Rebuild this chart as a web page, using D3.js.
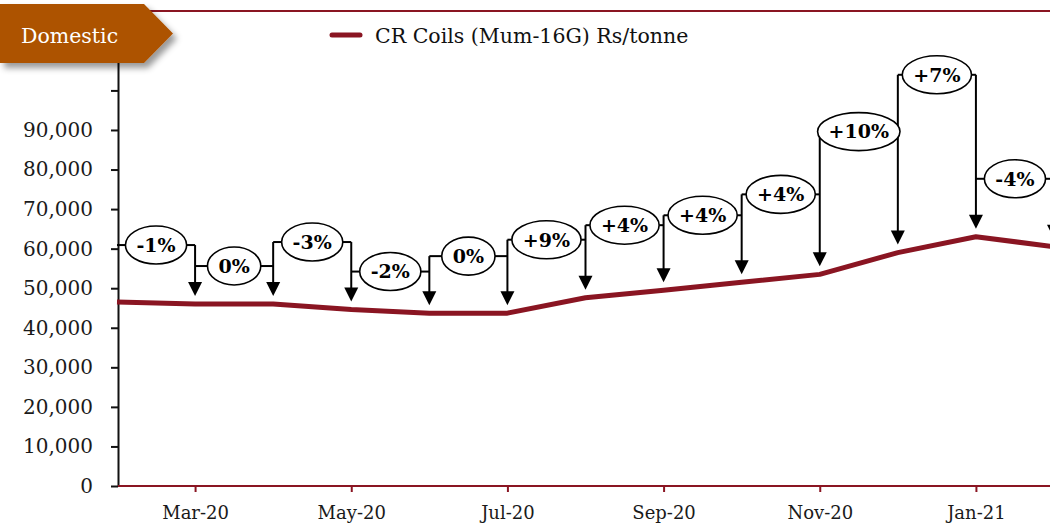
<!DOCTYPE html>
<html>
<head>
<meta charset="utf-8">
<title>CR Coils (Mum-16G) Rs/tonne</title>
<script src="https://cdn.jsdelivr.net/npm/d3@7/dist/d3.min.js"></script>
<style>
  body { margin: 0; background: #fff; }
  svg { display: block; font-family: "DejaVu Serif", Georgia, serif; }
  .y-axis path, .y-axis line { stroke: #111; stroke-width: 2px; }
  .x-axis path, .x-axis line { stroke: #8a1522; stroke-width: 2px; }
  .y-axis text, .x-axis text { fill: #1a1a1a; }
  .conn { stroke: #000; stroke-width: 2px; fill: none; }
  .bubble { fill: #fff; stroke: #000; stroke-width: 1.6px; }
  .bubble-label { font-weight: bold; font-size: 19px; text-anchor: middle; }
</style>
</head>
<body>
<div id="viz"></div>
<script>
// DATA
var months = ["Feb-20", "Mar-20", "Apr-20", "May-20", "Jun-20", "Jul-20", "Aug-20",
              "Sep-20", "Oct-20", "Nov-20", "Dec-20", "Jan-21", "Feb-21"];
var prices = [46500, 46000, 46000, 44600, 43700, 43700, 47600,
              49500, 51500, 53500, 59000, 63000, 60500];
var changeLabels = ["-1%", "0%", "-3%", "-2%", "0%", "+9%", "+4%", "+4%", "+4%", "+10%", "+7%", "-4%"];
var xTickLabels = ["Mar-20", "May-20", "Jul-20", "Sep-20", "Nov-20", "Jan-21"];
var yTicks = d3.range(0, 120001, 10000);
var yLabelMax = 90000;
var seriesName = "CR Coils (Mum-16G) Rs/tonne";
var tagText = "Domestic";

// layout: px each change bubble sits above the higher of its two points
var calloutLift = [57, 38, 62, 38, 57, 58, 65, 67, 80, 121, 162, 58];

// Dimensions
var w = 1050, h = 526;
var lineColor = "#8a1522";

var svg = d3.select("#viz").append("svg")
  .attr("width", w)
  .attr("height", h);

var x = d3.scalePoint().domain(months).range([117, 1054]);
var y = d3.scaleLinear().domain([0, 120000]).range([486, 11.3]);

// top rule
svg.append("line")
  .attr("x1", 117).attr("x2", w)
  .attr("y1", 11).attr("y2", 11)
  .attr("stroke", lineColor).attr("stroke-width", 2);

// AXES
var yAxis = svg.append("g")
  .attr("class", "y-axis")
  .attr("transform", "translate(118,0)")
  .call(d3.axisLeft(y)
    .tickValues(yTicks)
    .tickSize(7)
    .tickSizeOuter(0)
    .tickPadding(18)
    .tickFormat(function(d) { return d <= yLabelMax ? d3.format(",")(d) : ""; }));
yAxis.attr("font-family", null).attr("font-size", null);
yAxis.selectAll("text").style("font-size", "20px");

var xAxis = svg.append("g")
  .attr("class", "x-axis")
  .attr("transform", "translate(0," + y(0) + ")")
  .call(d3.axisBottom(x)
    .tickValues(xTickLabels)
    .tickSize(6)
    .tickSizeOuter(0)
    .tickPadding(14));
xAxis.attr("font-family", null).attr("font-size", null);
xAxis.select(".domain").attr("d", "M118,0H" + w);
xAxis.selectAll("text").style("font-size", "18px");

// PRICE LINE
var line = d3.line()
  .x(function(d, i) { return x(months[i]); })
  .y(function(d) { return y(d); });

svg.append("path")
  .datum(prices)
  .attr("d", line)
  .attr("fill", "none")
  .attr("stroke", lineColor)
  .attr("stroke-width", 5)
  .attr("stroke-linejoin", "round");

// CALLOUTS
var callouts = changeLabels.map(function(lbl, j) {
  var x0 = x(months[j]), x1 = x(months[j + 1]);
  return {
    label: lbl,
    x0: x0, x1: x1,
    cx: (x0 + x1) / 2,
    cy: Math.min(y(prices[j]), y(prices[j + 1])) - calloutLift[j]
  };
});

var connG = svg.append("g");
var bubbleG = svg.append("g");

var bubbles = bubbleG.selectAll("g")
  .data(callouts)
  .enter().append("g");

bubbles.append("ellipse").attr("class", "bubble");
bubbles.append("text")
  .attr("class", "bubble-label")
  .attr("x", function(d) { return d.cx; })
  .attr("y", function(d) { return d.cy; })
  .attr("dy", "0.36em")
  .text(function(d) { return d.label; })
  .each(function(d) { d.rx = this.getComputedTextLength() / 2 + 11; });

bubbles.select("ellipse")
  .attr("cx", function(d) { return d.cx; })
  .attr("cy", function(d) { return d.cy; })
  .attr("rx", function(d) { return d.rx; })
  .attr("ry", 19);

// horizontal stubs from bubble sides to the month verticals
callouts.forEach(function(d) {
  connG.append("line").attr("class", "conn")
    .attr("x1", d.x0).attr("x2", d.cx - d.rx)
    .attr("y1", d.cy).attr("y2", d.cy);
  connG.append("line").attr("class", "conn")
    .attr("x1", d.cx + d.rx).attr("x2", d.x1)
    .attr("y1", d.cy).attr("y2", d.cy);
});

// down arrows onto each month's point
prices.forEach(function(v, i) {
  if (i === 0) return;
  var xi = x(months[i]);
  var top = callouts[i] ? Math.min(callouts[i - 1].cy, callouts[i].cy) : callouts[i - 1].cy;
  var tip = y(v) - 8;
  connG.append("line").attr("class", "conn")
    .attr("x1", xi).attr("x2", xi)
    .attr("y1", top).attr("y2", tip - 10);
  connG.append("path")
    .attr("d", "M" + (xi - 7) + "," + (tip - 14) + "L" + (xi + 7) + "," + (tip - 14) + "L" + xi + "," + tip + "Z")
    .attr("fill", "#000");
});

// LEGEND
svg.append("line")
  .attr("x1", 332).attr("x2", 360)
  .attr("y1", 35).attr("y2", 35)
  .attr("stroke", lineColor)
  .attr("stroke-width", 5)
  .attr("stroke-linecap", "round");
svg.append("text")
  .attr("x", 375).attr("y", 43)
  .style("font-size", "20.5px")
  .attr("fill", "#111")
  .text(seriesName);

// DOMESTIC TAG
var defs = svg.append("defs");
var shadow = defs.append("filter").attr("id", "tagShadow")
  .attr("x", "-10%").attr("y", "-20%").attr("width", "130%").attr("height", "160%");
shadow.append("feDropShadow")
  .attr("dx", 4).attr("dy", 5)
  .attr("stdDeviation", 3)
  .attr("flood-color", "#000")
  .attr("flood-opacity", 0.4);

svg.append("path")
  .attr("d", "M0,4H144L173,33.5L144,63H0Z")
  .attr("fill", "#ad5200")
  .attr("filter", "url(#tagShadow)");
svg.append("text")
  .attr("x", 21).attr("y", 43)
  .attr("fill", "#fff")
  .style("font-size", "20.5px")
  .text(tagText);
</script>
</body>
</html>
